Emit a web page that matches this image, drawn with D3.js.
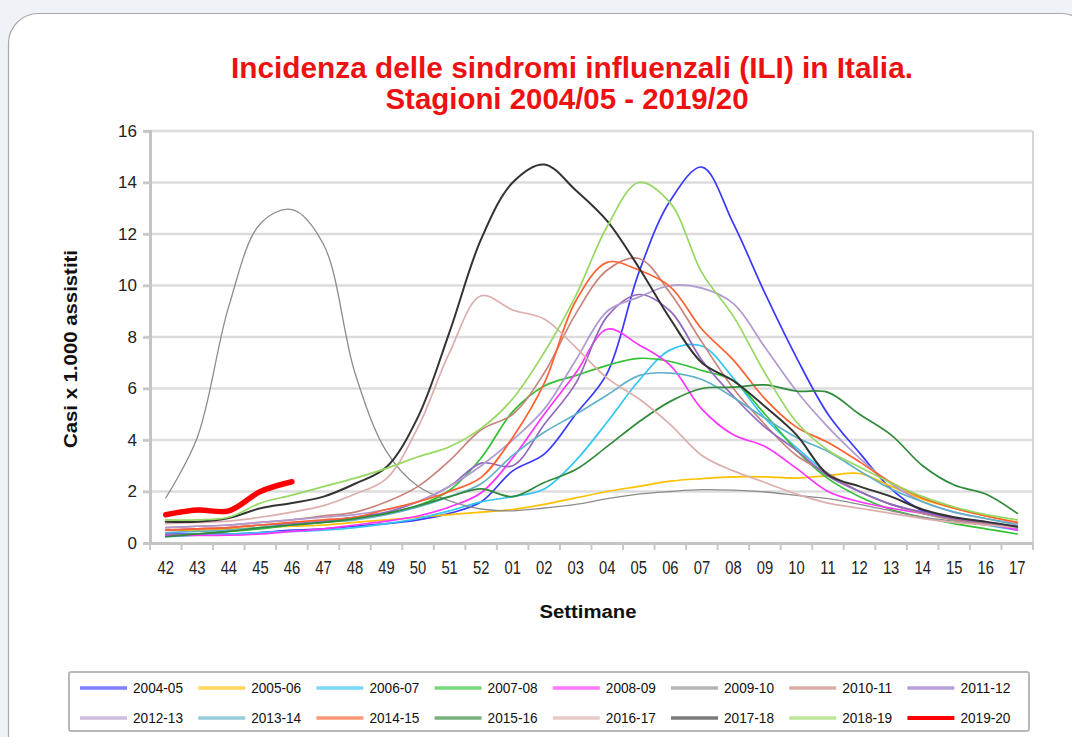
<!DOCTYPE html>
<html><head><meta charset="utf-8">
<script src="https://cdn.jsdelivr.net/npm/d3@7"></script>
<style>
html,body{margin:0;padding:0;background:#eff3f7;overflow:hidden;}
svg{display:block;font-family:"Liberation Sans",Arial,sans-serif;}
</style></head><body>
<svg id="c" width="1072" height="737"></svg>
<script>
const titleLines = ["Incidenza delle sindromi influenzali (ILI) in Italia.", "Stagioni 2004/05 - 2019/20"];
const yTitle = "Casi x 1.000 assistiti";
const xTitle = "Settimane";
const weeks = ["42","43","44","45","46","47","48","49","50","51","52","01","02","03","04","05","06","07","08","09","10","11","12","13","14","15","16","17"];
const yTicks = [0,2,4,6,8,10,12,14,16];
const seasons = ["2004-05","2005-06","2006-07","2007-08","2008-09","2009-10","2010-11","2011-12","2012-13","2013-14","2014-15","2015-16","2016-17","2017-18","2018-19","2019-20"];
const colors = ["#3a3aff","#ffc000","#33c6f4","#33c033","#ff33ff","#8c8c8c","#c8847a","#9468c0","#b09ad0","#5fb0c8","#ff6030","#2f8a3a","#dcaeae","#333333","#96d860","#ff0000"];

const v0405 = [0.35,0.35,0.35,0.4,0.5,0.55,0.65,0.75,0.9,1.15,1.6,2.8,3.45,5.0,6.6,10.5,13.3,14.6,12.4,9.7,7.2,5.0,3.5,2.1,1.25,0.97,0.77,0.58];
const v0506 = [0.5,0.5,0.55,0.6,0.65,0.7,0.8,0.9,1.0,1.1,1.2,1.3,1.5,1.75,2.0,2.2,2.4,2.5,2.57,2.57,2.52,2.62,2.7,2.2,1.7,1.35,1.05,0.8];
const v0607 = [0.25,0.3,0.35,0.4,0.45,0.5,0.6,0.75,0.95,1.25,1.6,1.8,2.1,3.2,4.7,6.3,7.5,7.65,6.4,4.85,3.7,2.7,2.0,1.5,1.15,0.9,0.7,0.5];
const v0708 = [0.3,0.35,0.45,0.55,0.7,0.85,1.0,1.15,1.45,2.05,3.3,5.1,6.1,6.5,6.9,7.17,7.05,6.7,6.3,5.0,3.6,2.5,1.8,1.3,1.0,0.75,0.55,0.35];
const v0809 = [0.3,0.3,0.3,0.35,0.45,0.55,0.7,0.85,1.05,1.4,1.95,3.3,5.0,6.6,8.3,7.7,6.9,5.2,4.2,3.75,2.9,2.0,1.6,1.35,1.15,0.95,0.75,0.5];
const v0910 = [1.75,4.1,9.2,12.4,12.95,11.6,6.6,3.55,2.2,1.64,1.32,1.25,1.36,1.5,1.72,1.9,2.0,2.07,2.05,1.98,1.85,1.72,1.5,1.25,1.0,0.85,0.7,0.6];
const v1011 = [0.6,0.65,0.7,0.8,0.9,1.05,1.2,1.6,2.2,3.2,4.4,5.0,6.6,8.9,10.6,11.05,9.7,7.8,6.0,4.6,3.4,2.7,2.0,1.5,1.15,0.9,0.75,0.6];
const v1112 = [0.5,0.55,0.6,0.7,0.75,0.85,1.0,1.2,1.6,2.2,3.1,3.0,4.6,6.2,8.8,9.65,9.0,7.1,5.7,4.5,3.6,2.6,2.0,1.5,1.2,0.95,0.8,0.65];
const v1213 = [0.6,0.65,0.7,0.8,0.9,1.0,1.1,1.3,1.6,2.2,3.0,4.0,5.2,7.1,9.0,9.55,10.0,9.9,9.3,7.6,5.9,4.5,3.3,2.3,1.6,1.2,0.95,0.75];
const v1314 = [0.4,0.45,0.5,0.6,0.7,0.8,0.9,1.1,1.4,1.8,2.3,3.4,4.3,5.0,5.75,6.5,6.6,6.35,5.65,4.85,4.1,3.55,2.8,2.1,1.6,1.2,0.95,0.7];
const v1415 = [0.5,0.55,0.6,0.7,0.8,0.9,1.0,1.3,1.6,2.0,2.55,4.1,6.2,9.4,10.9,10.6,9.95,8.3,7.1,5.6,4.5,3.9,3.15,2.35,1.75,1.35,1.05,0.8];
const v1516 = [0.25,0.35,0.45,0.6,0.7,0.8,0.95,1.15,1.45,1.8,2.1,1.8,2.35,2.85,3.75,4.7,5.5,6.0,6.05,6.14,5.9,5.85,5.0,4.2,3.0,2.25,1.9,1.15];
const v1617 = [0.75,0.8,0.85,1.0,1.2,1.45,1.9,2.5,4.5,7.4,9.6,9.05,8.7,7.6,6.4,5.6,4.6,3.4,2.8,2.35,1.9,1.55,1.35,1.15,0.95,0.8,0.7,0.6];
const v1718 = [0.83,0.83,0.97,1.35,1.55,1.8,2.3,2.95,4.9,8.2,11.8,14.0,14.7,13.7,12.5,10.7,8.7,7.0,6.3,5.3,4.2,2.65,2.2,1.8,1.3,1.0,0.83,0.63];
const v1819 = [0.9,0.9,1.0,1.55,1.86,2.19,2.52,2.9,3.35,3.74,4.45,5.6,7.4,9.6,12.3,14.0,13.2,10.5,8.8,6.6,4.7,3.6,2.95,2.33,1.8,1.4,1.1,0.9];
const v1920 = [1.1,1.28,1.25,2.0,2.38];
const seriesValues = [v0405,v0506,v0607,v0708,v0809,v0910,v1011,v1112,v1213,v1314,v1415,v1516,v1617,v1718,v1819,v1920];

const svg = d3.select("#c");
const M = {left:150, right:1033, top:131, bottom:543};

// card
svg.append("rect").attr("x",8.5).attr("y",13.5).attr("width",1083).attr("height",820).attr("rx",30)
  .attr("fill","#ffffff").attr("stroke","#a9a9a9").attr("stroke-width",1.2);

// title
const title = svg.append("g");
title.append("text").attr("x",572).attr("y",78).attr("text-anchor","middle")
  .attr("font-size",29).attr("font-weight","bold").attr("fill","#ee1111")
  .attr("textLength",682).attr("lengthAdjust","spacingAndGlyphs").text(titleLines[0]);
title.append("text").attr("x",567).attr("y",109).attr("text-anchor","middle")
  .attr("font-size",29).attr("font-weight","bold").attr("fill","#ee1111")
  .attr("textLength",363).attr("lengthAdjust","spacingAndGlyphs").text(titleLines[1]);

const x = d3.scaleBand().domain(weeks).range([M.left, M.right]).paddingInner(0).paddingOuter(0);
const y = d3.scaleLinear().domain([0,16]).range([M.bottom, M.top]);
const cx = w => x(w) + x.bandwidth()/2;

// gridlines
svg.append("g").selectAll("line").data(yTicks.filter(d=>d>0)).join("line")
  .attr("x1",M.left-7).attr("x2",M.right).attr("y1",d=>y(d)).attr("y2",d=>y(d))
  .attr("stroke","#dcdcdc").attr("stroke-width",2.5);
// right border
svg.append("line").attr("x1",M.right).attr("x2",M.right).attr("y1",M.top).attr("y2",M.bottom+1)
  .attr("stroke","#d6d6d6").attr("stroke-width",2);

// y axis
const yAxis = svg.append("g").attr("transform",`translate(${M.left},0)`)
  .call(d3.axisLeft(y).tickValues(yTicks).tickSize(7).tickPadding(6).tickFormat(d3.format("d")));
yAxis.select(".domain").attr("stroke","#c4c4c4").attr("stroke-width",3);
yAxis.selectAll(".tick line").attr("stroke","#c8c8c8").attr("stroke-width",2.5);
yAxis.selectAll(".tick text").attr("font-size",17).attr("fill","#222").attr("font-family","Liberation Sans, Arial, sans-serif");

// x axis
const xAxis = svg.append("g").attr("transform",`translate(0,${M.bottom})`)
  .call(d3.axisBottom(x).tickSize(0).tickPadding(18));
xAxis.select(".domain").attr("stroke","#c4c4c4").attr("stroke-width",3);
xAxis.selectAll(".tick text").attr("font-size",18).attr("fill","#222")
  .attr("font-family","Liberation Sans, Arial, sans-serif").attr("transform","scale(0.82,1)");
// x tick marks at band boundaries
const bounds = weeks.map(w=>x(w)).concat([M.right]);
svg.append("g").selectAll("line").data(bounds).join("line")
  .attr("x1",d=>d).attr("x2",d=>d).attr("y1",M.bottom).attr("y2",M.bottom+7)
  .attr("stroke","#c8c8c8").attr("stroke-width",2);

// axis titles
svg.append("text").attr("transform","translate(77,349) rotate(-90)").attr("text-anchor","middle")
  .attr("font-size",18).attr("font-weight","bold").attr("fill","#111")
  .attr("textLength",198).attr("lengthAdjust","spacingAndGlyphs").text(yTitle);
svg.append("text").attr("x",588).attr("y",618).attr("text-anchor","middle")
  .attr("font-size",18).attr("font-weight","bold").attr("fill","#111")
  .attr("textLength",97).attr("lengthAdjust","spacingAndGlyphs").text(xTitle);

// lines
const line = d3.line().x((d,i)=>cx(weeks[i])).y(d=>y(d)).curve(d3.curveCatmullRom.alpha(0.5));
const widths = seasons.map(s => s==="2019-20" ? 5.5 : (s==="2017-18" ? 2 : (s==="2009-10" ? 1.3 : 1.7)));
svg.append("g").selectAll("path").data(seriesValues).join("path")
  .attr("d", d=>line(d)).attr("fill","none")
  .attr("stroke",(d,i)=>colors[i]).attr("stroke-width",(d,i)=>widths[i])
  .attr("stroke-linejoin","round").attr("stroke-linecap","round");

// legend
const lg = svg.append("g");
lg.append("rect").attr("x",69).attr("y",672).attr("width",960).attr("height",59)
  .attr("fill","#fff").attr("stroke","#b8b8b8").attr("stroke-width",2).attr("rx",2);
const items = lg.selectAll("g.item").data(seasons).join("g").attr("class","item")
  .attr("transform",(d,i)=>`translate(${80 + (i%8)*118.2},${i<8 ? 688 : 718})`);
items.append("line").attr("x1",0).attr("x2",47).attr("y1",0).attr("y2",0)
  .attr("stroke",(d,i)=>colors[i]).attr("stroke-width",(d,i)=> i===15 ? 4 : 3.5)
  .attr("stroke-opacity",(d,i)=> i===15 ? 1 : 0.65);
items.append("text").attr("x",53).attr("y",5).attr("font-size",14).attr("fill","#111")
  .attr("textLength",50).attr("lengthAdjust","spacingAndGlyphs").text(d=>d);
</script>
</body></html>
